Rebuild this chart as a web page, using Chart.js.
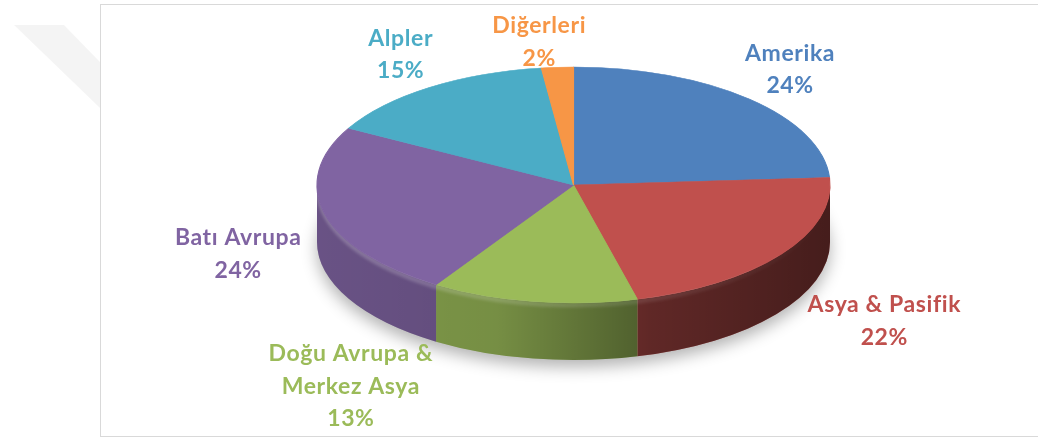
<!DOCTYPE html>
<html>
<head>
<meta charset="utf-8">
<script src="https://cdn.jsdelivr.net/npm/chart.js@4"></script>
<style>
  html, body { margin: 0; padding: 0; background: #fff; }
  #chart { display: block; }
</style>
</head>
<body>
<canvas id="chart" width="1038" height="441"></canvas>
<script>
// Data (clockwise from 12 o'clock)
const categories = ['Amerika', 'Asya & Pasifik', ['Doğu Avrupa &', 'Merkez Asya'], 'Batı Avrupa', 'Alpler', 'Diğerleri'];
const shares = [24, 22, 13, 24, 15, 2];
const colors = ['#4F81BD', '#C0504D', '#9BBB59', '#8064A2', '#4BACC6', '#F79646'];

// where the tilted pie sits on the page
const pie = { cx: 573.5, cy: 185, rx: 256.5, ry: 118, depth: 57 };
// label placement: distance outside the rim, then a per-label nudge
const labelPad = 35;
const labelNudge = [[17, -4], [75, -11], [-177, -7], [-53, -26], [-9, -4], [-16, 10]];

const total = shares.reduce((a, b) => a + b, 0);

const tiltPlugin = {
    id: 'tilt',
    beforeDraw(chart) {
        const ctx = chart.ctx;
        ctx.save();
        // faint watermark corner
        ctx.fillStyle = 'rgba(0,0,0,0.045)';
        ctx.beginPath();
        ctx.moveTo(14, 25);
        ctx.lineTo(64, 25); ctx.lineTo(100, 62); ctx.lineTo(100, 108);
        ctx.closePath();
        ctx.fill();
        // frame of the chart area
        ctx.strokeStyle = '#d9d9d9';
        ctx.lineWidth = 1;
        ctx.strokeRect(100.5, 4.5, 1000, 432);
        ctx.restore();
    },
    beforeDatasetsDraw(chart) {
        const ctx = chart.ctx;
        const arcs = chart.getDatasetMeta(0).data;
        const { cx, cy, rx, ry, depth } = pie;

        // soft shadow under the pie
        ctx.save();
        ctx.shadowColor = 'rgba(0,0,0,0.3)';
        ctx.shadowBlur = 16;
        ctx.shadowOffsetY = 7;
        ctx.fillStyle = '#bbb';
        ctx.beginPath();
        ctx.ellipse(cx, cy + depth, rx, ry, 0, 0, Math.PI * 2);
        ctx.fill();
        ctx.restore();

        // outer wall of each slice, front half only
        const shade = ctx.createLinearGradient(cx - rx, 0, cx + rx, 0);
        shade.addColorStop(0, 'rgba(0,0,0,0.18)');
        shade.addColorStop(0.35, 'rgba(0,0,0,0.24)');
        shade.addColorStop(0.65, 'rgba(0,0,0,0.5)');
        shade.addColorStop(1, 'rgba(0,0,0,0.64)');
        arcs.forEach((arc, i) => {
            const a = Math.max(arc.startAngle, 0);
            const b = Math.min(arc.endAngle, Math.PI);
            if (a >= b) return;
            ctx.beginPath();
            ctx.ellipse(cx, cy, rx, ry, 0, a, b, false);
            ctx.lineTo(cx + rx * Math.cos(b), cy + depth + ry * Math.sin(b));
            ctx.ellipse(cx, cy + depth, rx, ry, 0, b, a, true);
            ctx.closePath();
            ctx.fillStyle = colors[i];
            ctx.fill();
            ctx.fillStyle = shade;
            ctx.fill();
        });

        // rounded rim highlight just below the top edge
        ctx.save();
        const rim = ctx.createLinearGradient(cx - rx, 0, cx + rx, 0);
        rim.addColorStop(0, 'rgba(255,255,255,0.22)');
        rim.addColorStop(0.5, 'rgba(255,255,255,0.14)');
        rim.addColorStop(1, 'rgba(255,255,255,0)');
        ctx.strokeStyle = rim;
        ctx.lineWidth = 5;
        ctx.filter = 'blur(1.5px)';
        ctx.beginPath();
        ctx.ellipse(cx, cy + 2, rx - 1, ry, 0, 0.03, Math.PI - 0.03);
        ctx.stroke();
        ctx.restore();

        // squash the round pie into the top face
        const x0 = arcs[0].x, y0 = arcs[0].y, R = arcs[0].outerRadius;
        ctx.save();
        ctx.translate(cx, cy);
        ctx.scale(rx / R, ry / R);
        ctx.translate(-x0, -y0);
    },
    afterDatasetsDraw(chart) {
        const ctx = chart.ctx;
        ctx.restore();

        const arcs = chart.getDatasetMeta(0).data;
        const { cx, cy, rx, ry, depth } = pie;
        ctx.save();
        ctx.font = 'bold 23px Lato';
        ctx.letterSpacing = '0.6px';
        ctx.textAlign = 'center';
        ctx.textBaseline = 'middle';
        arcs.forEach((arc, i) => {
            const mid = (arc.startAngle + arc.endAngle) / 2;
            const s = Math.sin(mid);
            const x = cx + (rx + labelPad) * Math.cos(mid) + labelNudge[i][0];
            const y = cy + (ry + labelPad) * s + (s > 0 ? depth : 0) + labelNudge[i][1];
            const lines = [].concat(categories[i], [Math.round(shares[i] / total * 100) + '%']);
            const lh = 32.5;
            ctx.fillStyle = colors[i];
            lines.forEach((t, k) => {
                ctx.fillText(t, x, y + (k - (lines.length - 1) / 2) * lh);
            });
        });
        ctx.restore();
    }
};

new Chart(document.getElementById('chart'), {
    type: 'pie',
    data: {
        labels: categories,
        datasets: [{
            data: shares,
            backgroundColor: colors,
            borderColor: colors,
            borderWidth: 1
        }]
    },
    options: {
        responsive: false,
        animation: false,
        plugins: {
            legend: { display: false },
            tooltip: { enabled: false }
        }
    },
    plugins: [tiltPlugin]
});
</script>
</body>
</html>
